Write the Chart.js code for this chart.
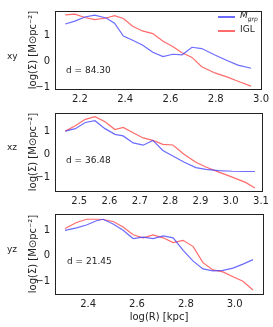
<!DOCTYPE html>
<html>
<head>
<meta charset="utf-8">
<script src="https://cdn.jsdelivr.net/npm/chart.js@4/dist/chart.umd.min.js"></script>
<style>
  html, body { margin: 0; padding: 0; background: #fff; }
  #wrap { position: relative; width: 273px; height: 327px; overflow: hidden; font-family: "DejaVu Sans", sans-serif; color: #222; }
  canvas { position: absolute; left: 0; }
  .side { position: absolute; font-size: 9px; }
  .note { position: absolute; font-size: 9px; }
  .leg { position: absolute; font-size: 9px; }
  .leg i.l { position: absolute; width: 17px; height: 1.5px; }
</style>
</head>
<body>
<div id="wrap">
  <canvas id="c-xy" style="top:0px" width="273" height="104"></canvas>
  <canvas id="c-xz" style="top:102px" width="273" height="106"></canvas>
  <canvas id="c-yz" style="top:203px" width="273" height="124"></canvas>

  <div class="side" style="left:7px;top:51px">xy</div>
  <div class="side" style="left:7px;top:142px">xz</div>
  <div class="side" style="left:7px;top:244px">yz</div>

  <div class="note" style="left:66px;top:65px">d = 84.30</div>
  <div class="note" style="left:66px;top:155px">d = 36.48</div>
  <div class="note" style="left:67px;top:256px">d = 21.45</div>

  <div class="leg" style="left:218px;top:9px;width:50px;height:30px">
    <i class="l" style="left:0;top:7px;background:rgba(70,70,255,0.8)"></i>
    <span style="position:absolute;left:22px;top:1px;font-style:italic">M<sub style="font-size:6px">grp</sub></span>
    <i class="l" style="left:0;top:21px;background:rgba(255,70,70,0.8)"></i>
    <span style="position:absolute;left:22px;top:15px">IGL</span>
  </div>
</div>
<script>
Chart.defaults.font.family = '"DejaVu Sans", sans-serif';
Chart.defaults.color = '#222';

const BLUE = 'rgba(70,70,255,0.8)';
const RED = 'rgba(255,70,70,0.8)';

// xy projection
const xyR = [2.135, 2.178, 2.222, 2.265, 2.316, 2.353, 2.392, 2.433, 2.476, 2.522, 2.567, 2.610, 2.651, 2.695, 2.738, 2.796, 2.855, 2.898, 2.956];
const xyMgrp = [1.43, 1.54, 1.70, 1.77, 1.66, 1.46, 0.96, 0.80, 0.62, 0.34, 0.17, 0.26, 0.24, 0.53, 0.48, 0.23, 0.00, -0.16, -0.28];
const xyIGL = [1.78, 1.81, 1.68, 1.60, 1.66, 1.75, 1.64, 1.34, 1.16, 1.06, 0.76, 0.56, 0.32, 0.14, -0.22, -0.46, -0.63, -0.78, -0.97];

// xz projection
const xzR = [2.454, 2.487, 2.520, 2.552, 2.585, 2.618, 2.645, 2.678, 2.711, 2.743, 2.776, 2.809, 2.847, 2.885, 2.918, 2.961, 3.005, 3.049, 3.080];
const xzMgrp = [1.03, 1.14, 1.41, 1.49, 1.14, 0.89, 0.82, 0.51, 0.41, 0.62, 0.18, -0.07, -0.34, -0.58, -0.66, -0.71, -0.74, -0.75, -0.75];
const xzIGL = [1.03, 1.27, 1.55, 1.67, 1.44, 1.10, 1.19, 0.96, 0.73, 0.62, 0.45, 0.42, 0.00, -0.34, -0.55, -0.78, -1.00, -1.23, -1.48];

// yz projection
const yzR = [2.305, 2.352, 2.393, 2.434, 2.461, 2.502, 2.543, 2.584, 2.625, 2.666, 2.707, 2.748, 2.789, 2.830, 2.870, 2.911, 2.952, 2.993, 3.034, 3.075];
const yzMgrp = [1.02, 1.12, 1.23, 1.40, 1.46, 1.27, 1.02, 0.69, 0.75, 0.69, 0.80, 0.72, 0.22, -0.21, -0.52, -0.60, -0.58, -0.49, -0.33, -0.15];
const yzIGL = [1.09, 1.33, 1.46, 1.46, 1.45, 1.37, 1.15, 0.84, 0.72, 0.84, 0.72, 0.53, 0.62, 0.37, -0.27, -0.56, -0.64, -0.83, -1.01, -1.36];

const yTicks = [-1, 0, 1];
const xyTicks = [2.2, 2.4, 2.6, 2.8, 3.0];
const xzTicks = [2.5, 2.6, 2.7, 2.8, 2.9, 3.0, 3.1];
const yzTicks = [2.4, 2.6, 2.8, 3.0];

const frame = {
    id: 'frame',
    afterDraw(chart) {
        const a = chart.chartArea, ctx = chart.ctx;
        ctx.save();
        ctx.strokeStyle = '#222';
        ctx.lineWidth = 1;
        ctx.strokeRect(Math.round(a.left) + 0.5, Math.round(a.top) + 0.5, Math.round(a.right - a.left), Math.round(a.bottom - a.top));
        ctx.restore();
    },
};

const fmt = v => (v < 0 ? '\u2212' + Math.abs(v) : String(v));

function panel(id, R, mgrp, igl, xr, yr, xt, xH, showX) {
    const pts = ys => R.map((r, i) => ({ x: r, y: ys[i] }));
    return new Chart(document.getElementById(id), {
        type: 'line',
        data: {
            datasets: [
                { label: 'M_grp', data: pts(mgrp), borderColor: BLUE, borderWidth: 1.2, pointRadius: 0, tension: 0 },
                { label: 'IGL', data: pts(igl), borderColor: RED, borderWidth: 1.2, pointRadius: 0, tension: 0 },
            ],
        },
        options: {
            responsive: false,
            animation: false,
            events: [],
            layout: { padding: { left: 27, right: 10, top: 5, bottom: 0 } },
            plugins: { legend: { display: false }, tooltip: { enabled: false } },
            scales: {
                x: {
                    type: 'linear', min: xr[0], max: xr[1],
                    grid: { display: false, drawTicks: false }, border: { display: false },
                    afterBuildTicks: s => { s.ticks = xt.map(v => ({ value: v })); },
                    afterFit: s => { s.height = xH; },
                    ticks: { padding: 4, maxRotation: 0, font: { size: 10 }, callback: v => v.toFixed(1) },
                    title: { display: showX, text: 'log(R) [kpc]', font: { size: 10 }, padding: { top: 3 } },
                },
                y: {
                    type: 'linear', min: yr[0], max: yr[1],
                    grid: { display: false, drawTicks: false }, border: { display: false },
                    afterBuildTicks: s => { s.ticks = yTicks.map(v => ({ value: v })); },
                    afterFit: s => { s.width = 28; },
                    ticks: { padding: 5, font: { size: 10 }, callback: fmt },
                    title: { display: true, text: 'log(\u03A3) [M\u2299pc\u207B\u00B2]', font: { size: 10 }, padding: 0 },
                },
            },
        },
        plugins: [frame],
    });
}

panel('c-xy', xyR, xyMgrp, xyIGL, [2.09, 3.0], [-1.08, 1.93], xyTicks, 15, false);
panel('c-xz', xzR, xzMgrp, xzIGL, [2.42, 3.103], [-1.61, 1.83], xzTicks, 17, false);
panel('c-yz', yzR, yzMgrp, yzIGL, [2.264, 3.116], [-1.52, 1.67], yzTicks, 33, true);
</script>
</body>
</html>
